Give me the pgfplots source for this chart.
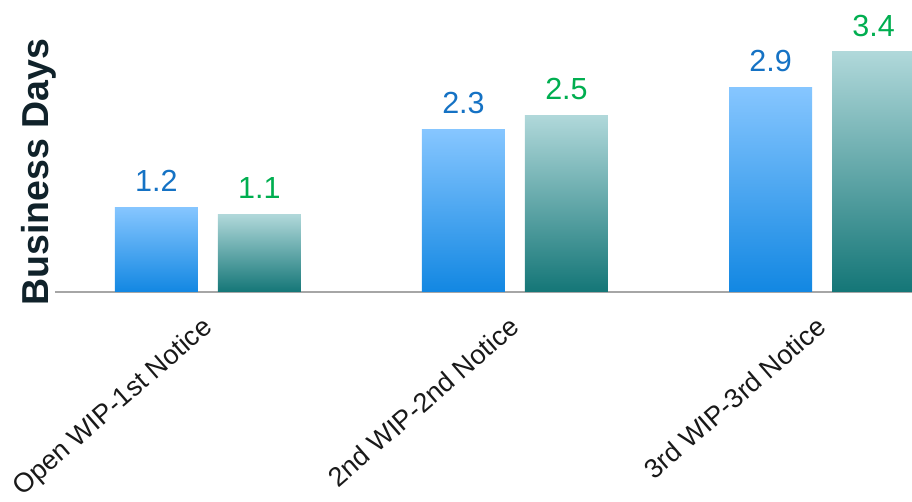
\documentclass[border=0pt]{standalone}
\usepackage{fontspec}
\setmainfont{Liberation Sans}
\usepackage{pgfplots}
\pgfplotsset{compat=1.18}
\definecolor{bluetop}{HTML}{86C6FF}
\definecolor{bluebot}{HTML}{1287E2}
\definecolor{tealtop}{HTML}{B0D8DA}
\definecolor{tealbot}{HTML}{147677}
\definecolor{valblue}{HTML}{1572C4}
\definecolor{valgreen}{HTML}{00AE50}
\definecolor{labdark}{HTML}{10222A}
\definecolor{axgray}{HTML}{A6A6A6}
\begin{document}
\begin{tikzpicture}
\useasboundingbox (-55pt,-210pt) rectangle (857pt,292pt);
\begin{axis}[
  scale only axis, width=857pt, height=292pt,
  xmin=-0.498, xmax=2.293, ymin=0, ymax=4.136,
  clip=false,
  axis x line*=bottom, axis y line*=left,
  y axis line style={draw=none},
  x axis line style={draw=axgray, line width=1.5pt, -},
  ytick=\empty,
  xtick={0,1,2},
  xticklabels={Open WIP-1st Notice, 2nd WIP-2nd Notice, 3rd WIP-3rd Notice},
  xticklabel style={xshift=-7pt, yshift=-20pt, rotate=41, anchor=north east, font=\fontsize{27}{29}\selectfont, text=black!90, inner sep=2pt},
  major tick length=0pt,
  ybar, bar width=83pt,
  nodes near coords,
  /pgf/number format/.cd, fixed, precision=1, assume math mode=true, /pgfplots/.cd,
  every node near coord/.append style={font=\fontsize{30.5}{32}\selectfont, yshift=12pt},
  blue bar/.style={draw=none, bar shift=-51.5pt, top color=bluetop, bottom color=bluebot, every node near coord/.append style={text=valblue}},
  teal bar/.style={draw=none, bar shift=51.5pt, top color=tealtop, bottom color=tealbot, every node near coord/.append style={text=valgreen}},
]
\addplot[blue bar] coordinates {(0,1.2)};
\addplot[blue bar] coordinates {(1,2.3)};
\addplot[blue bar] coordinates {(2,2.9)};
\addplot[teal bar] coordinates {(0,1.1)};
\addplot[teal bar] coordinates {(1,2.5)};
\addplot[teal bar] coordinates {(2,3.4)};
\node[rotate=90, anchor=center, font=\fontsize{37.5}{40}\selectfont\bfseries, text=labdark] at ([xshift=-16pt]axis description cs:0,0.41) {Business Days};
\end{axis}
\end{tikzpicture}
\end{document}
